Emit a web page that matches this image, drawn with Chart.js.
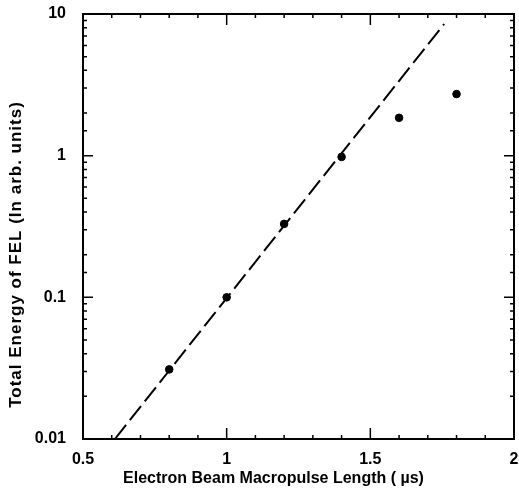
<!DOCTYPE html>
<html>
<head>
<meta charset="utf-8">
<script src="https://cdn.jsdelivr.net/npm/chart.js@4/dist/chart.umd.min.js"></script>
<style>
  html, body { margin: 0; padding: 0; background: #fff; }
  #wrap { width: 519px; height: 493px; position: relative; }
</style>
</head>
<body>
<div id="wrap"><canvas id="fel"></canvas></div>
<script>
// measured points, pulse length (us) vs FEL energy (arb. units)
var pulseLength = [0.8, 1.0, 1.2, 1.4, 1.6, 1.8];
var felEnergy = [0.031, 0.1, 0.33, 0.98, 1.85, 2.72];
// dashed fit line end points
var fitLength = [0.611, 1.757];
var fitEnergy = [0.01, 8.5];
var xLabels = [0.5, 1, 1.5, 2];
var yLabels = [0.01, 0.1, 1, 10];
var xTitle = 'Electron Beam Macropulse Length ( \u00b5s)';
var yTitle = 'Total Energy of FEL (In arb. units)';

var font = "'Liberation Sans', Arial, Helvetica, sans-serif";

var toPoints = (xs, ys) => xs.map((x, i) => ({ x: x, y: ys[i] }));

var isMajor = (v, list) => list.some(m => Math.abs(m - v) < 1e-9);

// ticks drawn inward on all four sides, the frame, and the axis titles
var frameTicks = {
  id: 'frameTicks',
  afterDraw: function(chart) {
    var ctx = chart.ctx, a = chart.chartArea;
    var xs = chart.scales.x, ys = chart.scales.y;
    ctx.save();
    ctx.strokeStyle = '#000';
    ctx.lineWidth = 1.5;
    xs.ticks.forEach(t => {
      var px = xs.getPixelForValue(t.value);
      var len = isMajor(t.value, xLabels) ? 11 : 4;
      ctx.beginPath();
      ctx.moveTo(px, a.bottom); ctx.lineTo(px, a.bottom - len);
      ctx.moveTo(px, a.top); ctx.lineTo(px, a.top + len);
      ctx.stroke();
    });
    ys.ticks.forEach(t => {
      var py = ys.getPixelForValue(t.value);
      var len = isMajor(t.value, yLabels) ? 10 : 4;
      ctx.beginPath();
      ctx.moveTo(a.left, py); ctx.lineTo(a.left + len, py);
      ctx.moveTo(a.right, py); ctx.lineTo(a.right - len, py);
      ctx.stroke();
    });
    ctx.lineWidth = 2;
    ctx.strokeRect(a.left, a.top, a.right - a.left, a.bottom - a.top);

    ctx.fillStyle = '#000';
    ctx.textAlign = 'center';
    ctx.textBaseline = 'middle';
    ctx.font = 'bold 16px ' + font;
    ctx.letterSpacing = '0px';
    ctx.fillText(xTitle, (a.left + a.right) / 2 - 25, a.bottom + 40);
    ctx.font = 'bold 17px ' + font;
    ctx.letterSpacing = '1px';
    ctx.translate(16, (a.top + a.bottom) / 2 + 28);
    ctx.rotate(-Math.PI / 2);
    ctx.fillText(yTitle, 0, 0);
    ctx.restore();
  }
};

new Chart(document.getElementById('fel'), {
  type: 'scatter',
  data: {
    datasets: [
      {
        type: 'line',
        data: toPoints(fitLength, fitEnergy),
        borderColor: '#000',
        borderWidth: 2,
        borderDash: [18, 6],
        pointRadius: 0,
        fill: false
      },
      {
        data: toPoints(pulseLength, felEnergy),
        backgroundColor: '#000',
        borderColor: '#000',
        pointRadius: 3.8
      }
    ]
  },
  options: {
    responsive: true,
    maintainAspectRatio: false,
    animation: false,
    layout: { padding: { top: 14, right: 5, left: 0, bottom: 0 } },
    plugins: {
      legend: { display: false },
      tooltip: { enabled: false }
    },
    scales: {
      x: {
        type: 'linear',
        min: 0.5,
        max: 2,
        grid: { display: false },
        border: { display: false },
        afterFit: s => { s.height = 54; s.paddingLeft = 0; s.paddingRight = 0; },
        ticks: {
          stepSize: 0.1,
          autoSkip: false,
          maxRotation: 0,
          padding: 3,
          color: '#000',
          font: { family: font, size: 16, weight: 'bold' },
          callback: v => isMajor(v, xLabels) ? String(Math.round(v * 10) / 10) : ''
        }
      },
      y: {
        type: 'logarithmic',
        min: 0.01,
        max: 10,
        grid: { display: false },
        border: { display: false },
        afterFit: s => { s.width = 83; s.paddingTop = 0; s.paddingBottom = 0; },
        ticks: {
          autoSkip: false,
          padding: 9,
          color: '#000',
          font: { family: font, size: 16, weight: 'bold' },
          callback: v => isMajor(v, yLabels) ? String(v) : ''
        }
      }
    }
  },
  plugins: [frameTicks]
});
</script>
</body>
</html>
